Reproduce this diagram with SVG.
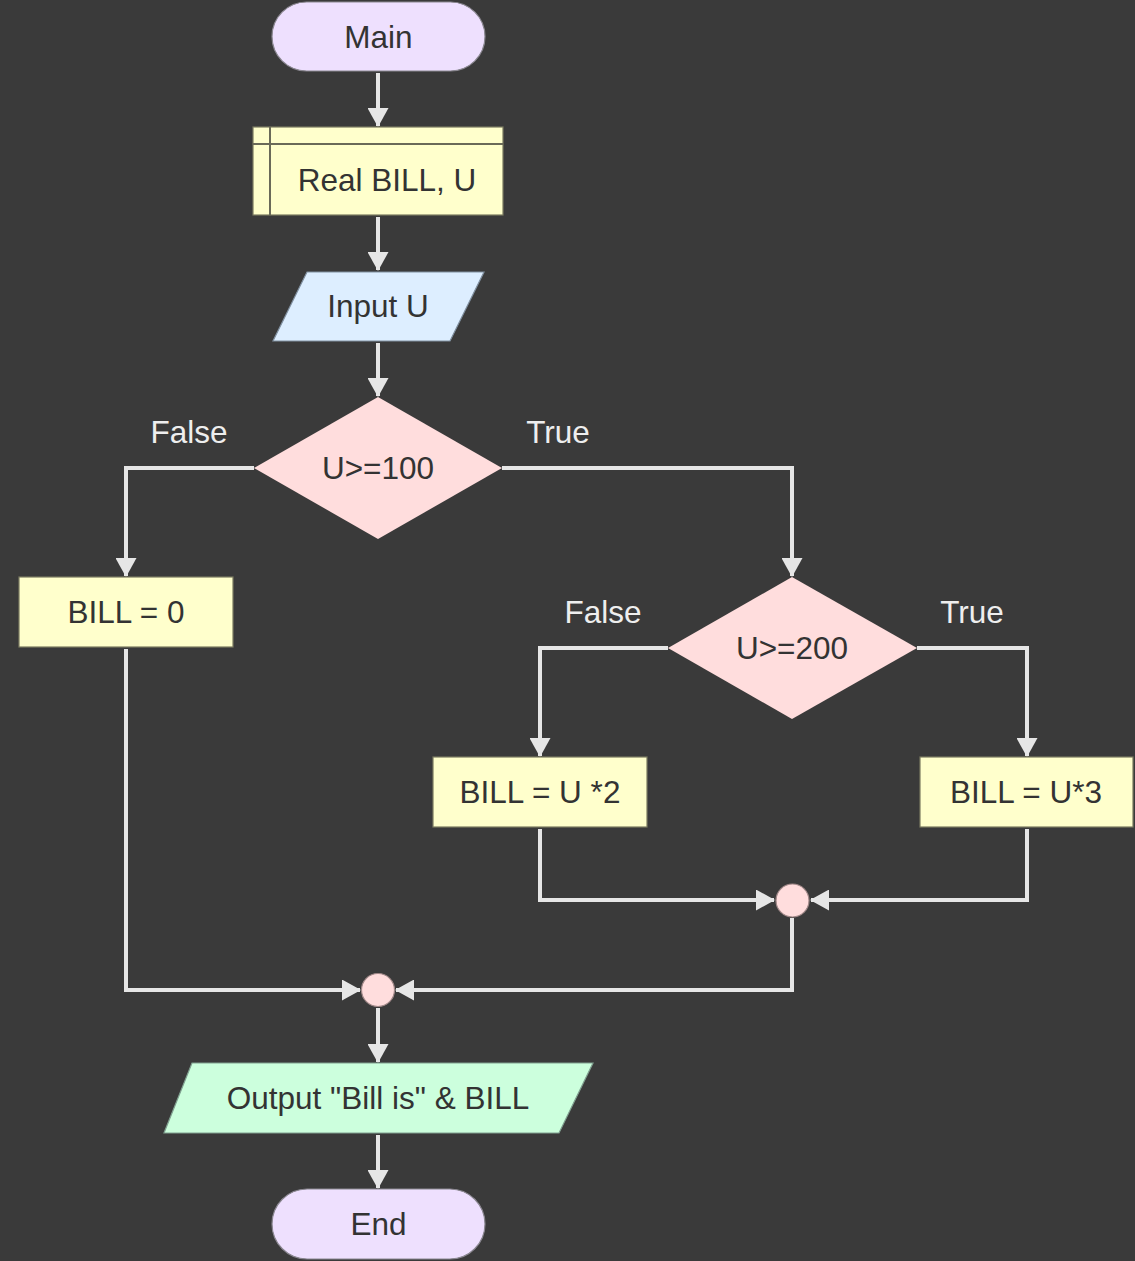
<svg xmlns="http://www.w3.org/2000/svg" width="1135" height="1261" viewBox="0 0 1135 1261">
<defs>
<style>
.t{font-family:"Liberation Sans",Arial,sans-serif;font-size:31.5px;fill:#333;text-anchor:middle;dominant-baseline:central}
.l{font-family:"Liberation Sans",Arial,sans-serif;font-size:31.5px;fill:#eee;text-anchor:middle;dominant-baseline:central}
.c{fill:none;stroke:#e6e6e6;stroke-width:4}
.term{fill:#eee0fe;stroke:#8a8790;stroke-width:1.2}
.proc{fill:#ffffcc;stroke:#7a7a60;stroke-width:1.2}
.io{fill:#ddeeff;stroke:#8090a0;stroke-width:1.2}
.dec{fill:#ffdddd;stroke:none}
.out{fill:#ccffdd;stroke:#80a090;stroke-width:1.2}
.jn{fill:#ffdddd;stroke:#a08888;stroke-width:1.2}
</style>
<marker id="a" markerWidth="19" markerHeight="21" refX="18" refY="10.5" orient="auto" markerUnits="userSpaceOnUse">
<path d="M0,0 L19,10.5 L0,21 z" fill="#e6e6e6"/>
</marker>
</defs>
<rect width="1135" height="1261" fill="#3a3a3a"/>
<g id="connectors">
<path class="c" d="M378,73 V126" marker-end="url(#a)"/>
<path class="c" d="M378,217 V270" marker-end="url(#a)"/>
<path class="c" d="M378,343 V396" marker-end="url(#a)"/>
<path class="c" d="M254,468 H126 V576" marker-end="url(#a)"/>
<path class="c" d="M502,468 H792 V576" marker-end="url(#a)"/>
<path class="c" d="M668,648 H540 V756" marker-end="url(#a)"/>
<path class="c" d="M917,648 H1027 V756" marker-end="url(#a)"/>
<path class="c" d="M126,649 V990 H360" marker-end="url(#a)"/>
<path class="c" d="M540,829 V900 H774" marker-end="url(#a)"/>
<path class="c" d="M1027,829 V900 H811" marker-end="url(#a)"/>
<path class="c" d="M792,918 V990 H396" marker-end="url(#a)"/>
<path class="c" d="M378,1008 V1062" marker-end="url(#a)"/>
<path class="c" d="M378,1135 V1188" marker-end="url(#a)"/>
<text class="l" x="189" y="432">False</text>
<text class="l" x="558" y="432">True</text>
<text class="l" x="603" y="612">False</text>
<text class="l" x="972" y="612">True</text>
</g>
<g id="main">
<rect class="term" x="272" y="2" width="213" height="69" rx="34.5"/>
<text class="t" x="378.5" y="36.5">Main</text>
</g>
<g id="declare">
<rect class="proc" x="253" y="127" width="250" height="88"/>
<path d="M270,127 V215 M253,144 H503" stroke="#6a6a58" stroke-width="2" fill="none"/>
<text class="t" x="387" y="180">Real BILL, U</text>
</g>
<g id="input">
<polygon class="io" points="307,272 484,272 450,341 273,341"/>
<text class="t" x="378" y="306">Input U</text>
</g>
<g id="dec1">
<polygon class="dec" points="378,397 502,468 378,539 254,468"/>
<text class="t" x="378" y="468">U&gt;=100</text>
</g>
<g id="bill0">
<rect class="proc" x="19" y="577" width="214" height="70"/>
<text class="t" x="126" y="612">BILL = 0</text>
</g>
<g id="dec2">
<polygon class="dec" points="792,577 917,648 792,719 668,648"/>
<text class="t" x="792" y="648">U&gt;=200</text>
</g>
<g id="bill2">
<rect class="proc" x="433" y="757" width="214" height="70"/>
<text class="t" x="540" y="792">BILL = U *2</text>
</g>
<g id="bill3">
<rect class="proc" x="920" y="757" width="213" height="70"/>
<text class="t" x="1026" y="792">BILL = U*3</text>
</g>
<g id="join1">
<circle class="jn" cx="792.5" cy="900.5" r="16.5"/>
</g>
<g id="join2">
<circle class="jn" cx="378" cy="990" r="16.5"/>
</g>
<g id="output">
<polygon class="out" points="192,1063 593,1063 559,1133 164,1133"/>
<text class="t" x="378" y="1098">Output "Bill is" &amp; BILL</text>
</g>
<g id="end">
<rect class="term" x="272" y="1189" width="213" height="70" rx="35"/>
<text class="t" x="378.5" y="1224">End</text>
</g>
</svg>
